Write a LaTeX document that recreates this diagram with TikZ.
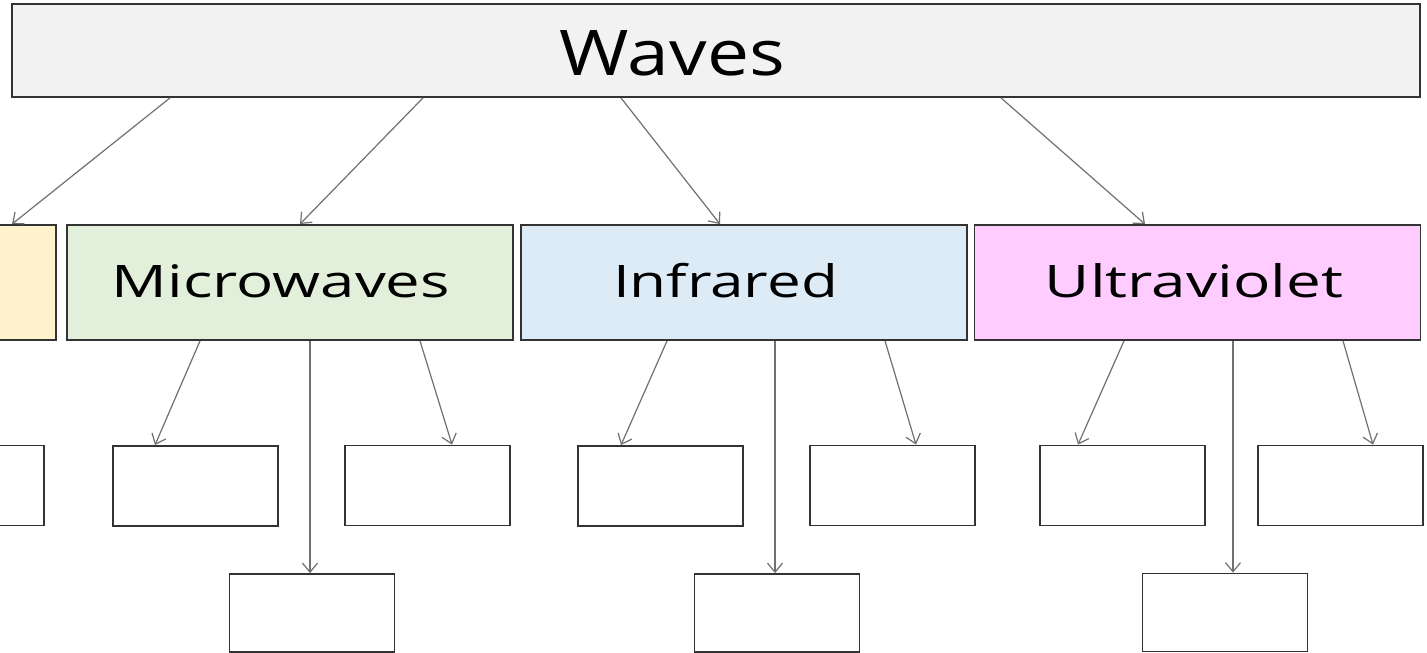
\documentclass[tikz,border=0pt]{standalone}
\usepackage{fontspec}
\usepackage{graphicx}
\setmainfont{Open Sans}
\usetikzlibrary{arrows.meta}
\definecolor{wavesfill}{HTML}{F2F2F2}
\definecolor{yelfill}{HTML}{FFF2CC}
\definecolor{grnfill}{HTML}{E2EFDA}
\definecolor{blufill}{HTML}{DDEBF7}
\definecolor{pnkfill}{HTML}{FFCCFF}
\definecolor{edge}{HTML}{333333}
\definecolor{arr}{HTML}{707070}
\newcommand\wlbl[3]{\resizebox{#1pt}{\height}{\fontsize{#2}{#2}\selectfont #3}}
\tikzset{
  box/.style={draw=edge, line width=1.8pt, rectangle, inner sep=0pt},
  leaf/.style={box, fill=white, minimum width=165pt, minimum height=80pt},
  cat/.style={box, minimum width=446pt, minimum height=115pt},
  lbl/.style={inner sep=0pt, anchor=base},
  conn/.style={draw=arr, line width=1.2pt, -{Straight Barb[length=9pt,width=15pt,line width=1.2pt]}}
}
\begin{document}
\begin{tikzpicture}[x=1pt,y=-1pt]
\useasboundingbox (0,0) rectangle (1427,653);
\fill[white] (0,0) rectangle (1427,653);
% top
\node[box, fill=wavesfill, minimum width=1408pt, minimum height=93pt] (waves) at (716,50.5) {};
\node[lbl] (wavest) at (672.5,75) {\wlbl{225}{63}{Waves}};
% categories
\node[box, fill=yelfill, minimum width=200pt, minimum height=115pt] (radio) at (-44,282.5) {};
\node[cat, fill=grnfill] (mw) at (290,282.5) {};
\node[lbl] (mwt) at (281,297) {\wlbl{338}{44.8}{Microwaves}};
\node[cat, fill=blufill] (ir) at (744,282.5) {};
\node[lbl] (irt) at (725.5,297) {\wlbl{225}{44.8}{Infrared}};
\node[cat, fill=pnkfill] (uv) at (1197.5,282.5) {};
\node[lbl] (uvt) at (1194,297) {\wlbl{298}{44.8}{Ultraviolet}};
% leaves
\node[leaf] (rdR) at (-38.5,485.5) {};
\node[leaf] (mwL) at (195.5,486) {};
\node[leaf] (mwR) at (427.5,485.5) {};
\node[leaf, minimum height=78pt] (mwB) at (312,613) {};
\node[leaf] (irL) at (660.5,486) {};
\node[leaf] (irR) at (892.5,485.5) {};
\node[leaf, minimum height=78pt] (irB) at (777,613) {};
\node[leaf] (uvL) at (1122.5,485.5) {};
\node[leaf] (uvR) at (1340.5,485.5) {};
\node[leaf, minimum height=78pt] (uvB) at (1225,612.5) {};
% connectors from Waves
\draw[conn] (170,0 |- waves.south) -- (12,0 |- radio.north);
\draw[conn] (423,0 |- waves.south) -- (300,0 |- mw.north);
\draw[conn] (621,0 |- waves.south) -- (720,0 |- ir.north);
\draw[conn] (1001,0 |- waves.south) -- (1145,0 |- uv.north);
% microwaves
\draw[conn] (200,0 |- mw.south) -- (155,0 |- mwL.north);
\draw[conn] (310,0 |- mw.south) -- (310,0 |- mwB.north);
\draw[conn] (420,0 |- mw.south) -- (452,0 |- mwR.north);
% infrared
\draw[conn] (667,0 |- ir.south) -- (621,0 |- irL.north);
\draw[conn] (775,0 |- ir.south) -- (775,0 |- irB.north);
\draw[conn] (885,0 |- ir.south) -- (916,0 |- irR.north);
% ultraviolet
\draw[conn] (1124,0 |- uv.south) -- (1078,0 |- uvL.north);
\draw[conn] (1233,0 |- uv.south) -- (1233,0 |- uvB.north);
\draw[conn] (1343,0 |- uv.south) -- (1373,0 |- uvR.north);
\end{tikzpicture}
\end{document}
